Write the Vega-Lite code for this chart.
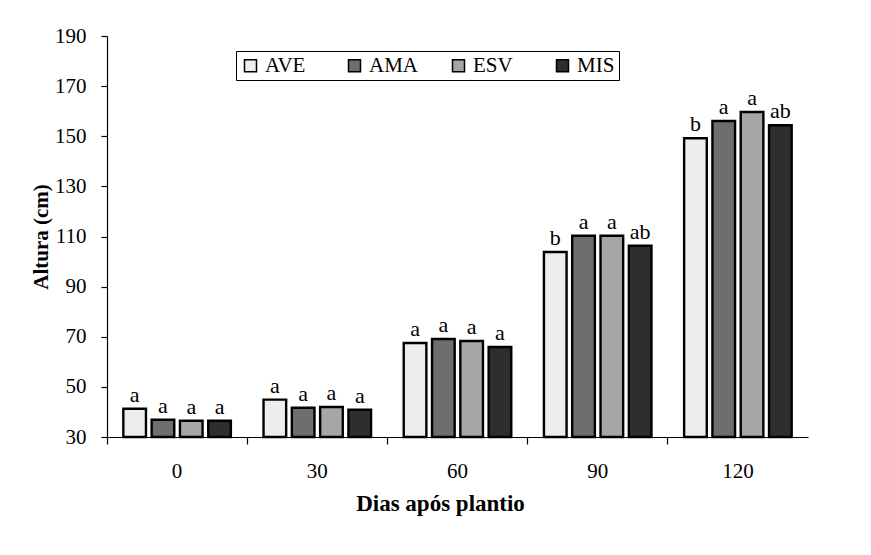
{
  "$schema": "https://vega.github.io/schema/vega-lite/v6.json",
  "width": 701,
  "height": 401,
  "autosize": "none",
  "padding": {"left": 107, "top": 36, "right": 63, "bottom": 118},
  "background": "white",
  "config": {
    "font": "Liberation Serif",
    "view": {"stroke": null},
    "axis": {
      "grid": false,
      "domainColor": "black",
      "domainWidth": 1.2,
      "tickColor": "black",
      "tickWidth": 1.2,
      "labelFont": "Liberation Serif",
      "labelFontSize": 21,
      "labelColor": "black",
      "titleFont": "Liberation Serif",
      "titleFontWeight": "bold",
      "titleColor": "black"
    }
  },
  "data": {
    "values": [
      {"dias": 0, "trat": "AVE", "altura": 41.3, "letra": "a"},
      {"dias": 0, "trat": "AMA", "altura": 36.9, "letra": "a"},
      {"dias": 0, "trat": "ESV", "altura": 36.5, "letra": "a"},
      {"dias": 0, "trat": "MIS", "altura": 36.5, "letra": "a"},
      {"dias": 30, "trat": "AVE", "altura": 44.9, "letra": "a"},
      {"dias": 30, "trat": "AMA", "altura": 41.7, "letra": "a"},
      {"dias": 30, "trat": "ESV", "altura": 42.0, "letra": "a"},
      {"dias": 30, "trat": "MIS", "altura": 40.9, "letra": "a"},
      {"dias": 60, "trat": "AVE", "altura": 67.5, "letra": "a"},
      {"dias": 60, "trat": "AMA", "altura": 69.1, "letra": "a"},
      {"dias": 60, "trat": "ESV", "altura": 68.3, "letra": "a"},
      {"dias": 60, "trat": "MIS", "altura": 65.9, "letra": "a"},
      {"dias": 90, "trat": "AVE", "altura": 103.8, "letra": "b"},
      {"dias": 90, "trat": "AMA", "altura": 110.3, "letra": "a"},
      {"dias": 90, "trat": "ESV", "altura": 110.3, "letra": "a"},
      {"dias": 90, "trat": "MIS", "altura": 106.3, "letra": "ab"},
      {"dias": 120, "trat": "AVE", "altura": 149.2, "letra": "b"},
      {"dias": 120, "trat": "AMA", "altura": 156.1, "letra": "a"},
      {"dias": 120, "trat": "ESV", "altura": 159.7, "letra": "a"},
      {"dias": 120, "trat": "MIS", "altura": 154.4, "letra": "ab"}
    ]
  },
  "encoding": {
    "x": {
      "field": "dias",
      "type": "ordinal",
      "scale": {"paddingInner": 0, "paddingOuter": 0},
      "axis": {
        "title": "Dias após plantio",
        "labelAngle": 0,
        "bandPosition": 0,
        "labelOffset": 0,
        "tickSize": 7,
        "labelPadding": 16,
        "titleFontSize": 23,
        "titlePadding": 11,
        "titleX": 333,
        "titleAlign": "center"
      }
    },
    "xOffset": {
      "field": "trat",
      "type": "nominal",
      "sort": ["AVE", "AMA", "ESV", "MIS"],
      "scale": {"paddingInner": 0.2, "paddingOuter": 0.577}
    },
    "y": {
      "field": "altura",
      "type": "quantitative",
      "scale": {"domain": [30, 190], "nice": false, "zero": false},
      "axis": {
        "title": "Altura (cm)",
        "values": [30, 50, 70, 90, 110, 130, 150, 170, 190],
        "tickSize": 6,
        "labelPadding": 15,
        "titleFontSize": 21,
        "titlePadding": 3
      }
    }
  },
  "layer": [
    {
      "mark": {"type": "bar", "stroke": "black", "strokeWidth": 2.4},
      "encoding": {
        "y2": {"datum": 30},
        "fill": {
          "field": "trat",
          "type": "nominal",
          "sort": ["AVE", "AMA", "ESV", "MIS"],
          "scale": {
            "domain": ["AVE", "AMA", "ESV", "MIS"],
            "range": ["#ededed", "#6e6e6e", "#a6a6a6", "#2e2e2e"]
          },
          "legend": {
            "title": null,
            "orient": "none",
            "legendX": 129,
            "legendY": 15,
            "direction": "horizontal",
            "strokeColor": "black",
            "padding": 4,
            "gridAlign": "all",
            "columnPadding": 29,
            "symbolType": "square",
            "symbolSize": 144,
            "symbolStrokeColor": "black",
            "symbolStrokeWidth": 1.5,
            "symbolOpacity": 1,
            "labelFont": "Liberation Serif",
            "labelFontSize": 21,
            "labelColor": "black",
            "labelOffset": 4
          }
        }
      }
    },
    {
      "mark": {"type": "text", "baseline": "alphabetic", "dy": -7, "fontSize": 22, "color": "black"},
      "encoding": {
        "text": {"field": "letra"}
      }
    }
  ]
}
